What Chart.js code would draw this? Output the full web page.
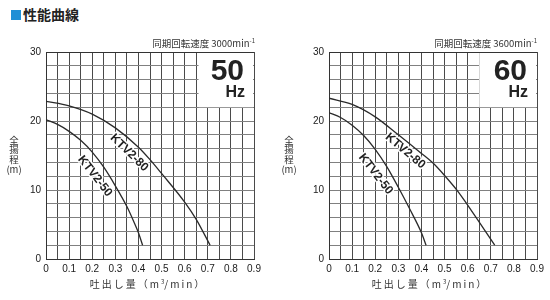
<!DOCTYPE html>
<html>
<head>
<meta charset="utf-8">
<script src="https://cdn.jsdelivr.net/npm/chart.js@4/dist/chart.umd.min.js"></script>
<style>
  body { margin: 0; width: 550px; height: 300px; overflow: hidden; position: relative; background: #fff;
         font-family: "Liberation Sans", Arial, "Noto Sans CJK JP", sans-serif; color: #333; }
  canvas { position: absolute; top: 0; }
  #c50 { left: 0; }
  #c60 { left: 275px; }
  .head { position: absolute; left: 11px; top: 4px; font: bold 14px "Noto Sans CJK JP", sans-serif; color: #222; }
  .head span { display: inline-block; width: 10px; height: 10px; background: #1f8fd6; margin-right: 2px; }
  .speed { position: absolute; top: 36px; font: 9.5px "Noto Sans CJK JP", "Liberation Sans", sans-serif; color: #333; text-align: right; }
  .speed sup { font-size: 6px; }
  .xtitle { position: absolute; top: 276px; width: 160px; text-align: center; font: 10px "Noto Sans CJK JP", sans-serif; letter-spacing: 2px; color: #333; }
  .xtitle sup { font-size: 6px; letter-spacing: 0; }
</style>
</head>
<body>
<div class="head"><span></span>性能曲線</div>
<canvas id="c50" width="275" height="300"></canvas>
<canvas id="c60" width="275" height="300"></canvas>
<div class="speed" style="right:295px">同期回転速度 3000min<sup>-1</sup></div>
<div class="speed" style="right:13px">同期回転速度 3600min<sup>-1</sup></div>
<div class="xtitle" style="left:68px">吐出し量（m<sup>3</sup>/min）</div>
<div class="xtitle" style="left:350px">吐出し量（m<sup>3</sup>/min）</div>
<script>
// 50Hz curves
const flow50_80 = [0, 0.1, 0.2, 0.3, 0.4, 0.45, 0.5, 0.6, 0.65, 0.71];
const head50_80 = [22.85, 22.2, 21.0, 19.0, 16.2, 14.4, 12.4, 8.25, 5.75, 2.0];
const flow50_50 = [0, 0.05, 0.1, 0.15, 0.2, 0.25, 0.3, 0.35, 0.38, 0.4, 0.418];
const head50_50 = [20.2, 19.5, 18.5, 17.2, 15.5, 13.3, 10.6, 7.6, 5.4, 3.8, 2.0];

// 60Hz curves
const flow60_80 = [0, 0.1, 0.2, 0.3, 0.4, 0.45, 0.5, 0.56, 0.6, 0.645, 0.717];
const head60_80 = [23.3, 22.4, 20.6, 18.0, 15.3, 13.9, 12.1, 9.7, 7.8, 5.6, 2.0];
const flow60_50 = [0, 0.05, 0.1, 0.15, 0.2, 0.25, 0.3, 0.35, 0.4, 0.42];
const head60_50 = [21.2, 20.5, 19.4, 17.9, 15.9, 13.4, 10.4, 7.2, 3.8, 2.0];

const models = ['KTV2-80', 'KTV2-50'];
const yTitle = ['全', '揚', '程', '(m)'];
const xMax = 0.9, yMax = 30;

const toPoints = (xs, ys) => xs.map((x, i) => ({ x: x, y: ys[i] }));

// white Hz box, rotated model names, stacked y title
const decorPlugin = {
    id: 'decor',
    beforeDatasetsDraw(chart, args, opts) {
        const { ctx, chartArea: a, scales } = chart;
        const left = scales.x.getPixelForValue(opts.boxFrom);
        const bottom = scales.y.getPixelForValue(22);
        ctx.save();
        ctx.fillStyle = '#fff';
        ctx.fillRect(left, a.top + 1, a.right - left - 1, bottom - a.top - 1);
        ctx.fillStyle = '#222';
        ctx.textAlign = 'right';
        ctx.textBaseline = 'alphabetic';
        ctx.font = 'bold 30px "Liberation Sans", Arial, sans-serif';
        ctx.fillText(opts.hz, a.right - 10, a.top + 28);
        ctx.font = 'bold 16px "Liberation Sans", Arial, sans-serif';
        ctx.fillText('Hz', a.right - 9, a.top + 45);
        ctx.restore();
    },
    afterDatasetsDraw(chart, args, opts) {
        const { ctx, chartArea: a, scales } = chart;
        ctx.save();
        ctx.font = 'bold 12px "Liberation Sans", Arial, sans-serif';
        ctx.textAlign = 'center';
        ctx.textBaseline = 'middle';
        ctx.lineJoin = 'round';
        opts.labels.forEach(l => {
            ctx.save();
            ctx.translate(scales.x.getPixelForValue(l.x), scales.y.getPixelForValue(l.y));
            ctx.rotate(l.angle * Math.PI / 180);
            ctx.strokeStyle = '#fff';
            ctx.lineWidth = 3;
            ctx.strokeText(l.text, 0, 0);
            ctx.fillStyle = '#222';
            ctx.fillText(l.text, 0, 0);
            ctx.restore();
        });
        // y axis title, one character per row
        ctx.fillStyle = '#333';
        ctx.font = '9.5px "Noto Sans CJK JP", sans-serif';
        const tx = a.left - opts.titleGap;
        yTitle.forEach((ch, i) => {
            ctx.fillText(ch, tx, 140 + i * 9.8);
        });
        ctx.restore();
    }
};

function makeChart(id, sets, hz, boxFrom, labels, yWidth, padRight) {
    const ctx = document.getElementById(id).getContext('2d');
    return new Chart(ctx, {
        type: 'scatter',
        data: {
            datasets: sets.map((s, i) => ({
                label: models[i],
                data: s,
                showLine: true,
                borderColor: '#2a2a2a',
                borderWidth: 1.3,
                pointRadius: 0,
                cubicInterpolationMode: 'monotone'
            }))
        },
        options: {
            responsive: false,
            animation: false,
            devicePixelRatio: 1,
            layout: { padding: { left: 0, right: padRight, top: 52, bottom: 0 } },
            plugins: {
                legend: { display: false },
                tooltip: { enabled: false },
                decor: { hz: hz, boxFrom: boxFrom, labels: labels, titleGap: yWidth - 14 }
            },
            scales: {
                x: {
                    type: 'linear', min: 0, max: xMax,
                    afterFit: s => { s.height = 41; },
                    ticks: {
                        stepSize: 0.05, padding: 4, color: '#1a1a1a', autoSkip: false,
                        maxRotation: 0, minRotation: 0,
                        font: { size: 10, family: '"Liberation Sans", Arial, sans-serif' },
                        callback: v => (Math.round(v * 100) % 10 === 0 ? String(Math.round(v * 10) / 10) : '')
                    },
                    grid: { color: '#4a4a4a', lineWidth: 1, drawTicks: false },
                    border: { color: '#333' }
                },
                y: {
                    type: 'linear', min: 0, max: yMax,
                    afterFit: s => { s.width = yWidth; },
                    ticks: {
                        stepSize: 2, padding: 5, color: '#1a1a1a', autoSkip: false,
                        font: { size: 10, family: '"Liberation Sans", Arial, sans-serif' },
                        callback: v => (v % 10 === 0 ? String(v) : '')
                    },
                    grid: {
                        color: c => (c.tick && (c.tick.value === 30 || c.tick.value === 0) ? '#333' : '#808080'),
                        lineWidth: 1, drawTicks: false
                    },
                    border: { color: '#333' }
                }
            }
        },
        plugins: [decorPlugin]
    });
}

makeChart('c50',
    [toPoints(flow50_80, head50_80), toPoints(flow50_50, head50_50)],
    '50', 0.66,
    [{ text: models[0], x: 0.36, y: 15.4, angle: 44 },
     { text: models[1], x: 0.212, y: 12.0, angle: 52 }],
    46, 21);

makeChart('c60',
    [toPoints(flow60_80, head60_80), toPoints(flow60_50, head60_50)],
    '60', 0.65,
    [{ text: models[0], x: 0.33, y: 15.65, angle: 40 },
     { text: models[1], x: 0.202, y: 12.3, angle: 52 }],
    54, 13);
</script>
</body>
</html>
